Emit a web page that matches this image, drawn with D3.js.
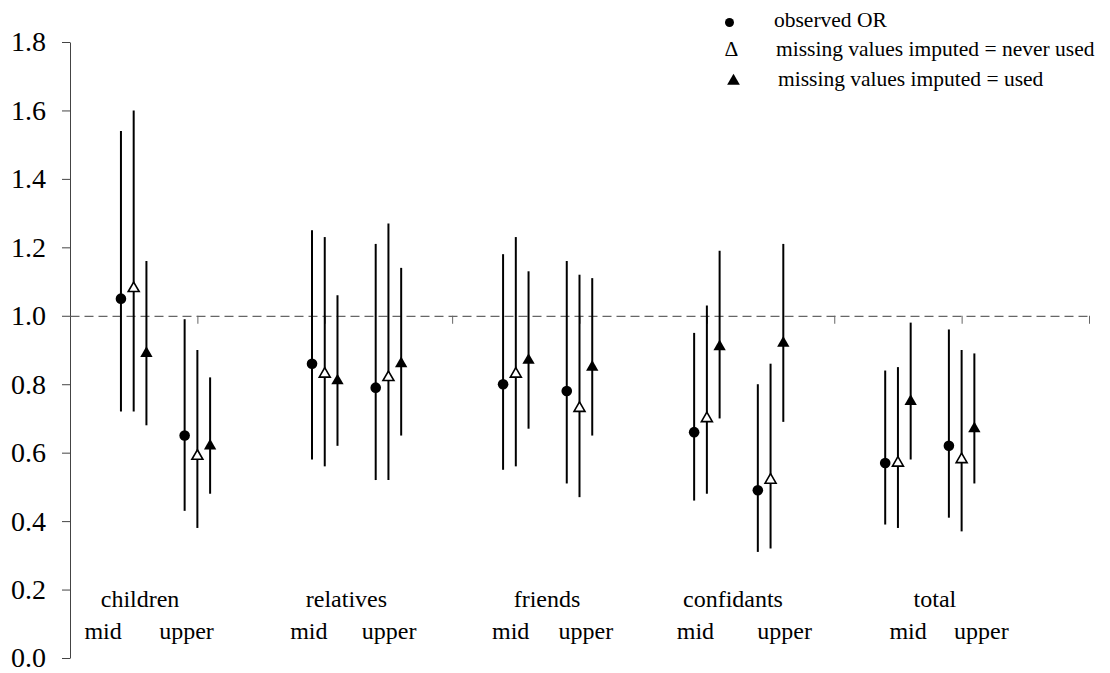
<!DOCTYPE html>
<html>
<head>
<meta charset="utf-8">
<script src="https://cdn.jsdelivr.net/npm/d3@7"></script>
<style>
  html, body { margin: 0; padding: 0; background: #fff; }
  svg { display: block; }
  text { font-family: "Liberation Serif", "Times New Roman", serif; fill: #000; }
</style>
</head>
<body>
<svg id="chart" width="1110" height="673"></svg>
<script>
// Network categories, each with a "mid" and an "upper" group
const categories = ["children", "relatives", "friends", "confidants", "total"];
const levels = ["mid", "upper"];

// Odds ratios with 95% CI, ordered children-mid, children-upper, relatives-mid, ...
const observedOR   = [1.05, 0.65, 0.86, 0.79, 0.80, 0.78, 0.66, 0.49, 0.57, 0.62];
const observedLow  = [0.72, 0.43, 0.58, 0.52, 0.55, 0.51, 0.46, 0.31, 0.39, 0.41];
const observedHigh = [1.54, 0.99, 1.25, 1.21, 1.18, 1.16, 0.95, 0.80, 0.84, 0.96];

const neverOR   = [1.08, 0.59, 0.83, 0.82, 0.83, 0.73, 0.70, 0.52, 0.57, 0.58];
const neverLow  = [0.72, 0.38, 0.56, 0.52, 0.56, 0.47, 0.48, 0.32, 0.38, 0.37];
const neverHigh = [1.60, 0.90, 1.23, 1.27, 1.23, 1.12, 1.03, 0.86, 0.85, 0.90];

const usedOR   = [0.89, 0.62, 0.81, 0.86, 0.87, 0.85, 0.91, 0.92, 0.75, 0.67];
const usedLow  = [0.68, 0.48, 0.62, 0.65, 0.67, 0.65, 0.70, 0.69, 0.58, 0.51];
const usedHigh = [1.16, 0.82, 1.06, 1.14, 1.13, 1.11, 1.19, 1.21, 0.98, 0.89];

// Axis ticks
const yTicks = [0, 0.2, 0.4, 0.6, 0.8, 1.0, 1.2, 1.4, 1.6, 1.8];
const xTicks = [2, 4, 6, 8, 10, 12, 14, 16];

// Legend entries
const legendLabels = ["observed OR", "missing values imputed = never used", "missing values imputed = used"];

// Label anchors along the x axis (axis units)
const categoryLabelX = [1.10, 4.34, 7.49, 10.41, 13.58];
const midLabelX   = [0.52, 3.75, 6.92, 9.82, 13.16];
const upperLabelX = [1.83, 5.01, 8.10, 11.22, 14.31];

const svg = d3.select("#chart");
const margin = { left: 70, right: 21, top: 42, bottom: 15 };
const W = 1110, H = 673;

const x = d3.scaleLinear().domain([0, 16]).range([margin.left, W - margin.right]);
const y = d3.scaleLinear().domain([0, 1.8]).range([H - margin.bottom, margin.top]);

// y axis
const yAxis = svg.append("g")
  .attr("transform", `translate(${x(0)},0)`)
  .call(d3.axisLeft(y).tickValues(yTicks).tickFormat(d3.format(".1f"))
    .tickSize(8).tickSizeOuter(0).tickPadding(16));
yAxis.select(".domain").attr("stroke", "#444").attr("stroke-width", 1);
yAxis.selectAll(".tick line").attr("stroke", "#444");
yAxis.selectAll(".tick text")
  .style("font-family", '"Liberation Serif", "Times New Roman", serif')
  .style("font-size", "28px").attr("fill", "#000");

// reference line at OR = 1 acting as the x axis
const xAxis = svg.append("g")
  .attr("transform", `translate(0,${y(1)})`)
  .call(d3.axisBottom(x).tickValues(xTicks).tickFormat("").tickSize(8).tickSizeOuter(0));
xAxis.select(".domain").attr("stroke", "#666").attr("stroke-width", 1.2).attr("stroke-dasharray", "9,5");
xAxis.selectAll(".tick line").attr("stroke", "#666");

// Build point records for the three estimates
const rows = [];
const series = [
  { key: "observed", val: observedOR, lo: observedLow, hi: observedHigh, off: -0.2 },
  { key: "never",    val: neverOR,    lo: neverLow,    hi: neverHigh,    off: 0 },
  { key: "used",     val: usedOR,     lo: usedLow,     hi: usedHigh,     off: 0.2 }
];
categories.forEach((c, i) => {
  levels.forEach((l, j) => {
    const k = i * 2 + j;
    const pos = 1 + 3 * i + j;
    series.forEach(s => {
      rows.push({ key: s.key, pos: pos + s.off, v: s.val[k], lo: s.lo[k], hi: s.hi[k] });
    });
  });
});

// confidence interval lines
svg.append("g").selectAll("line").data(rows).join("line")
  .attr("x1", d => x(d.pos)).attr("x2", d => x(d.pos))
  .attr("y1", d => y(d.lo)).attr("y2", d => y(d.hi))
  .attr("stroke", "#000").attr("stroke-width", 2);

// point estimates
const marks = svg.append("g");
marks.selectAll("circle").data(rows.filter(d => d.key === "observed")).join("circle")
  .attr("cx", d => x(d.pos)).attr("cy", d => y(d.v)).attr("r", 5.3).attr("fill", "#000");
const tri = d3.symbol().type(d3.symbolTriangle);
marks.selectAll("path.never").data(rows.filter(d => d.key === "never")).join("path")
  .attr("class", "never")
  .attr("d", tri.size(52)())
  .attr("transform", d => `translate(${x(d.pos)},${y(d.v)})`)
  .attr("fill", "#fff").attr("stroke", "#000").attr("stroke-width", 1.6);
marks.selectAll("path.used").data(rows.filter(d => d.key === "used")).join("path")
  .attr("class", "used")
  .attr("d", tri.size(66)())
  .attr("transform", d => `translate(${x(d.pos)},${y(d.v)})`)
  .attr("fill", "#000");

// category labels
const labels = svg.append("g").style("font-size", "24px").attr("text-anchor", "middle");
labels.selectAll("text.cat").data(categories).join("text")
  .attr("class", "cat")
  .attr("x", (d, i) => x(categoryLabelX[i])).attr("y", 607).text(d => d);
labels.selectAll("text.mid").data(categories).join("text")
  .attr("class", "mid")
  .attr("x", (d, i) => x(midLabelX[i])).attr("y", 639).text(levels[0]);
labels.selectAll("text.upper").data(categories).join("text")
  .attr("class", "upper")
  .attr("x", (d, i) => x(upperLabelX[i])).attr("y", 639).text(levels[1]);

// legend
const legend = svg.append("g").style("font-size", "21.5px");
legend.append("circle").attr("cx", 729.5).attr("cy", 22.5).attr("r", 4.5).attr("fill", "#000");
legend.append("text").attr("x", 731.5).attr("y", 56).attr("text-anchor", "middle").text("Δ");
legend.append("path").attr("d", d3.symbol().type(d3.symbolTriangle).size(70)())
  .attr("transform", "translate(733.5,81)").attr("fill", "#000");
const legendX = [774, 776, 778];
const legendY = [27, 56, 86];
legend.selectAll("text.lab").data(legendLabels).join("text")
  .attr("class", "lab")
  .attr("x", (d, i) => legendX[i]).attr("y", (d, i) => legendY[i]).text(d => d);
</script>
</body>
</html>
